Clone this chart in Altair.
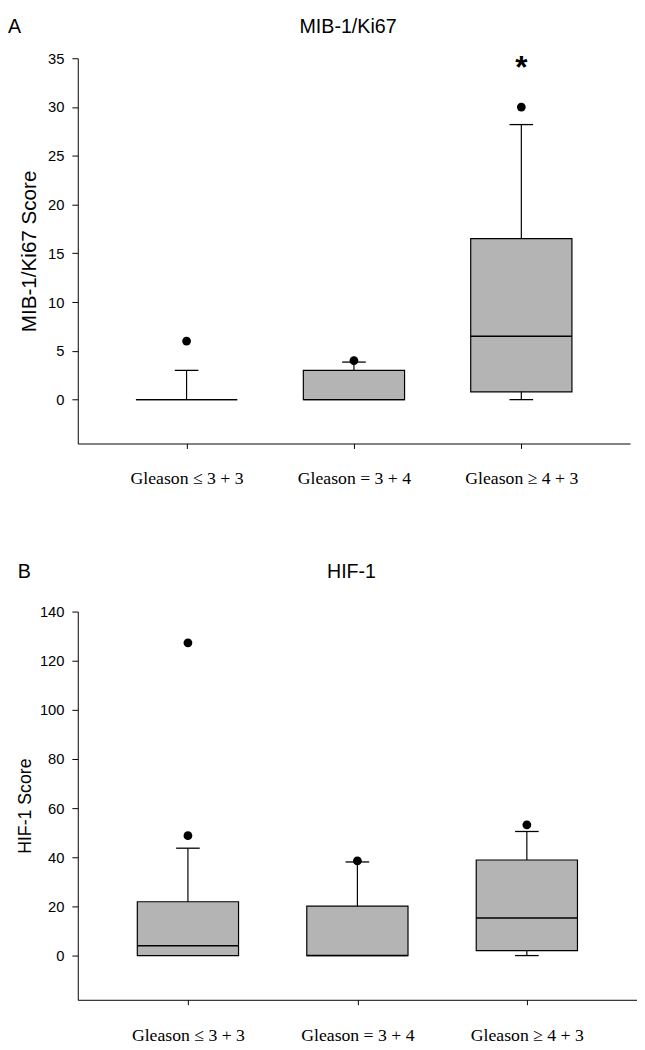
import altair as alt
import pandas as pd

groups = ["Gleason ≤ 3 + 3", "Gleason = 3 + 4", "Gleason ≥ 4 + 3"]

# Panel A: MIB-1/Ki67
a_q1 = [0.0, 0.0, 0.8]
a_median = [0.0, 0.0, 6.5]
a_q3 = [0.0, 3.0, 16.5]
a_low = [0.0, 0.0, 0.0]
a_high = [3.0, 3.85, 28.2]
a_out_group = [groups[0], groups[1], groups[2]]
a_out_value = [6.0, 4.0, 30.0]
a_sig_group = [groups[2]]
a_sig_value = [33.0]
a_ticks = [0, 5, 10, 15, 20, 25, 30, 35]

# Panel B: HIF-1
b_q1 = [0.0, 0.0, 2.0]
b_median = [4.0, 0.0, 15.3]
b_q3 = [21.9, 20.1, 38.9]
b_low = [0.0, 0.0, 0.0]
b_high = [43.7, 38.1, 50.5]
b_out_group = [groups[0], groups[0], groups[1], groups[2]]
b_out_value = [127.3, 48.8, 38.5, 53.2]
b_ticks = [0, 20, 40, 60, 80, 100, 120, 140]

BOX_W = 103
CAP_W = 24
GREY = "#b4b4b4"


def panel(q1, med, q3, lo, hi, out_g, out_v, ydom, yvals, ytitle, ytitle_size,
          letter, title, width, height, guard_x, letter_x, title_pad, label_y,
          sig=None):
    box_df = pd.DataFrame({"group": groups, "q1": q1, "median": med, "q3": q3,
                           "lo": lo, "hi": hi})
    cap_g, cap_v = [], []
    for g, a, b, l, h in zip(groups, q1, q3, lo, hi):
        if h > b:
            cap_g.append(g); cap_v.append(h)
        if l < a:
            cap_g.append(g); cap_v.append(l)
    cap_df = pd.DataFrame({"group": cap_g, "v": cap_v})
    out_df = pd.DataFrame({"group": out_g, "v": out_v})

    x = alt.X("group:N", sort=groups,
              scale=alt.Scale(type="point", padding=0.65, domain=groups),
              axis=alt.Axis(title=None, labelAngle=0, labelFont="Liberation Serif",
                            labelFontSize=18, labelColor="black", tickSize=5,
                            tickColor="black", domainColor="black", labelPadding=22,
                            grid=False))
    ysc = alt.Scale(domain=ydom, nice=False, zero=False)
    yax = alt.Axis(title=ytitle, values=yvals, grid=False, tickSize=6,
                   tickColor="black", domainColor="black", labelColor="black",
                   labelFont="Liberation Sans", labelFontSize=15, labelPadding=8,
                   titleFont="Liberation Sans", titleFontSize=ytitle_size,
                   titleFontWeight="normal", titleColor="black",
                   titlePadding=title_pad)

    base = alt.Chart(box_df)
    whisk = base.mark_rule(color="black", strokeWidth=1.2).encode(
        x=x, y=alt.Y("lo:Q", scale=ysc, axis=yax), y2="hi:Q")
    box = base.mark_bar(size=BOX_W, fill=GREY, stroke="black", strokeWidth=1.2).encode(
        x=x, y=alt.Y("q1:Q", scale=ysc), y2="q3:Q")
    medl = base.mark_tick(size=BOX_W, thickness=1.5, color="black", opacity=1).encode(
        x=x, y=alt.Y("median:Q", scale=ysc))
    caps = alt.Chart(cap_df).mark_tick(size=CAP_W, thickness=1.3, color="black",
                                       opacity=1).encode(
        x=x, y=alt.Y("v:Q", scale=ysc))
    outs = alt.Chart(out_df).mark_circle(size=80, color="black", opacity=1).encode(
        x=x, y=alt.Y("v:Q", scale=ysc))

    lbl = alt.Chart(pd.DataFrame({"t": [letter]})).mark_text(
        font="Liberation Sans", fontSize=20, align="left", baseline="middle",
        color="black").encode(text="t:N", x=alt.value(letter_x), y=alt.value(label_y))
    ttl = alt.Chart(pd.DataFrame({"t": [title]})).mark_text(
        font="Liberation Sans", fontSize=20, align="center", baseline="middle",
        color="black").encode(text="t:N", x=alt.value(width / 2 - 6), y=alt.value(label_y))
    guard = alt.Chart(pd.DataFrame({"t": [0]})).mark_rule(strokeOpacity=0).encode(
        x=alt.value(guard_x), y=alt.value(0), y2=alt.value(1))

    layers = [whisk, box, medl, caps, outs, lbl, ttl, guard]
    if sig is not None:
        sig_df = pd.DataFrame({"group": sig[0], "v": sig[1]})
        star = alt.Chart(sig_df).mark_text(
            text="*", font="Liberation Sans", fontSize=32, fontWeight="bold",
            baseline="alphabetic", color="black").encode(
            x=x, y=alt.Y("v:Q", scale=ysc))
        layers.append(star)
    return alt.layer(*layers).properties(width=width, height=height)


pa = panel(a_q1, a_median, a_q3, a_low, a_high, a_out_group, a_out_value,
           [-4.5, 35], a_ticks, "MIB-1/Ki67 Score", 21, "A", "MIB-1/Ki67",
           562, 392, -71, -71, 8, -32, sig=(a_sig_group, a_sig_value))
pb = panel(b_q1, b_median, b_q3, b_low, b_high, b_out_group, b_out_value,
           [-18, 140], b_ticks, "HIF-1 Score", 18, "B", "HIF-1",
           569, 395, -61, -61, 5, -40)

chart = alt.vconcat(pa, pb, spacing=76).properties(
    padding={"left": 0, "top": 0, "right": 0, "bottom": 0}
).configure_view(stroke=None)

chart.save("out.html", embed_options={"renderer": "svg", "actions": False})
